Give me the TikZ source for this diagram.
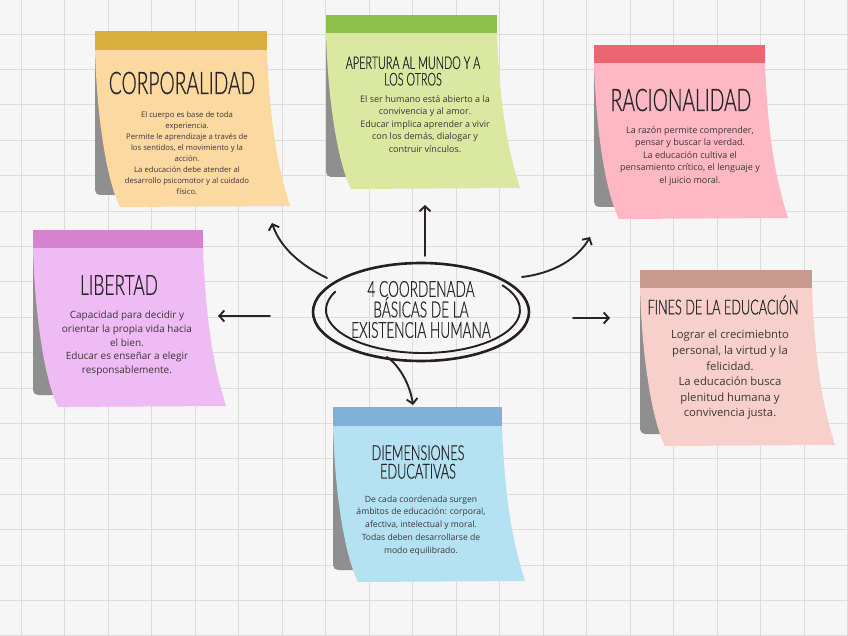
\documentclass[tikz,border=0pt]{standalone}
\usepackage{fontspec}
\setmainfont{Open Sans}
\newfontfamily\tfont[FakeStretch=0.62,FakeBold=0.6]{Lato Light}
\usetikzlibrary{arrows.meta}
\definecolor{bg}{HTML}{F6F6F6}
\definecolor{gridc}{HTML}{DCDCDC}
\definecolor{shadowc}{HTML}{8F8F8F}
\definecolor{titlec}{HTML}{262626}
\definecolor{bodyc}{HTML}{3C3535}
\definecolor{arrowc}{HTML}{2B2222}
\definecolor{corpband}{HTML}{D8AE3C}\definecolor{corpbody}{HTML}{FDD9A2}
\definecolor{apband}{HTML}{8DC04B}\definecolor{apbody}{HTML}{DAE8A2}
\definecolor{racband}{HTML}{EB6670}\definecolor{racbody}{HTML}{FDB8C3}
\definecolor{libband}{HTML}{D582CF}\definecolor{libbody}{HTML}{EFBBF4}
\definecolor{finband}{HTML}{C99A8E}\definecolor{finbody}{HTML}{F8D0CB}
\definecolor{dimband}{HTML}{7FB2D6}\definecolor{dimbody}{HTML}{B4E2F3}
\tikzset{
 gridline/.style={draw=gridc, line width=0.7pt},
 ttl/.style={text=titlec, inner sep=0pt, align=center},
 bodytxt/.style={text=bodyc, inner sep=0pt, align=center},
 connector/.style={draw=arrowc, line width=1.9pt, line cap=round,
   -{Straight Barb[length=5pt,width=11pt,line width=1.9pt]}},
 ring/.style={draw=arrowc!90!black, line cap=round},
}
% #1 x1, #2 ytop, #3 yband, #4 x2, #5 ybottom, #6 band, #7 body
\newcommand\stickynote[7]{%
 \fill[shadowc, rounded corners=5pt] (#1,#3) rectangle ({#4-8},{#5-11});
 \fill[#7] (#1,#3) -- (#4,#3)
   .. controls ({#4+3},{#3+80}) and ({#4+12},{#5-35}) .. ({#4+23},#5)
   -- ({#1+25},{#5+1})
   .. controls ({#1+12},{#5-25}) and ({#1+2},{#3+70}) .. (#1,#3) -- cycle;
 \fill[#6] (#1,#2) rectangle (#4,#3);
}
\begin{document}
\begin{tikzpicture}[x=1pt,y=-1pt]
\useasboundingbox (0,0) rectangle (848,636);
\fill[bg] (0,0) rectangle (848,636);
\foreach \i in {0,...,19} \draw[gridline] ({21+43.5*\i},0) -- ({21+43.5*\i},636);
\foreach \j in {0,...,18} \draw[gridline] (0,{-1.4+35.4*\j}) -- (848,{-1.4+35.4*\j});

% notes
\stickynote{95}{31}{50}{267}{206}{corpband}{corpbody}
\stickynote{326}{15}{33}{497}{188}{apband}{apbody}
\stickynote{594}{45}{63}{765}{218}{racband}{racbody}
\stickynote{33}{230}{248}{203}{406}{libband}{libbody}
\stickynote{640}{270}{288}{812}{445}{finband}{finbody}
\stickynote{333}{407}{426}{502}{581}{dimband}{dimbody}

% titles
\node[ttl, font=\tfont\fontsize{31}{31}\selectfont] (corpT) at (182,83) {CORPORALIDAD};
\node[ttl, font=\tfont\fontsize{17.5}{16.5}\selectfont] (apT) at (413,71) {APERTURA AL MUNDO Y A\\LOS OTROS};
\node[ttl, font=\tfont\fontsize{31}{31}\selectfont] (racT) at (681,100) {RACIONALIDAD};
\node[ttl, font=\tfont\fontsize{28}{28}\selectfont] (libT) at (119,285) {LIBERTAD};
\node[ttl, font=\tfont\fontsize{20.5}{20.5}\selectfont] (finT) at (723,305) {FINES DE LA EDUCACIÓN};
\node[ttl, font=\tfont\fontsize{20.5}{18.5}\selectfont] (dimT) at (418,462) {DIEMENSIONES\\EDUCATIVAS};

% bodies
\node[bodytxt, font=\fontsize{7.7}{11}\selectfont] (corpB) at (187,153.5) {El cuerpo es base de toda\\experiencia.\\Permite le aprendizaje a través de\\los sentidos, el movimiento y la\\acción.\\La educación debe atender al\\desarrollo psicomotor y al cuidado\\físico.};
\node[bodytxt, font=\fontsize{9}{12.5}\selectfont] (apB) at (425,124) {El ser humano está abierto a la\\convivencia y al amor.\\Educar implica aprender a vivir\\con los demás, dialogar y\\contruir vínculos.};
\node[bodytxt, font=\fontsize{9}{12.5}\selectfont] (racB) at (690,156) {La razón permite comprender,\\pensar y buscar la verdad.\\La educación cultiva el\\pensamiento crítico, el lenguaje y\\el juicio moral.};
\node[bodytxt, font=\fontsize{10}{13.75}\selectfont] (libB) at (127,343.5) {Capacidad para decidir y\\orientar la propia vida hacia\\el bien.\\Educar es enseñar a elegir\\responsablemente.};
\node[bodytxt, font=\fontsize{11.3}{15.6}\selectfont] (finB) at (730,375) {Lograr el crecimiebnto\\personal, la virtud y la\\felicidad.\\La educación busca\\plenitud humana y\\convivencia justa.};
\node[bodytxt, font=\fontsize{8.6}{12.75}\selectfont] (dimB) at (421,525.5) {De cada coordenada surgen\\ámbitos de educación: corporal,\\afectiva, intelectual y moral.\\Todas deben desarrollarse de\\modo equilibrado.};

% central ellipse
\draw[ring, line width=2.6pt] (421,312) ellipse [x radius=108, y radius=49];
\draw[ring, line width=1.9pt] ([shift={(205:97 and 43)}]423,310) arc[start angle=205, end angle=-35, x radius=97, y radius=43];
\node[ttl, font=\tfont\fontsize{22}{20.5}\selectfont] (center) at (421,309.5) {4 COORDENADA\\BÁSICAS DE LA\\EXISTENCIA HUMANA};

% connector end points
\coordinate (s1) at (327,278); \coordinate (e1) at (272,223);
\coordinate (s2) at (425,256); \coordinate (e2) at (425,205);
\coordinate (s3) at (522,277); \coordinate (e3) at (590,237);
\coordinate (s4) at (270,316); \coordinate (e4) at (218,316);
\coordinate (s5) at (573,318); \coordinate (e5) at (610,318);
\coordinate (s6) at (387,357); \coordinate (e6) at (413,405);

\draw[connector] (s1) .. controls (300,265) and (280,247) .. (e1);
\draw[connector] (s2) -- (e2);
\draw[connector] (s3) .. controls (555,273) and (578,258) .. (e3);
\draw[connector] (s4) -- (e4);
\draw[connector] (s5) -- (e5);
\draw[connector] (s6) .. controls (400,366) and (410,385) .. (e6);
\end{tikzpicture}
\end{document}
